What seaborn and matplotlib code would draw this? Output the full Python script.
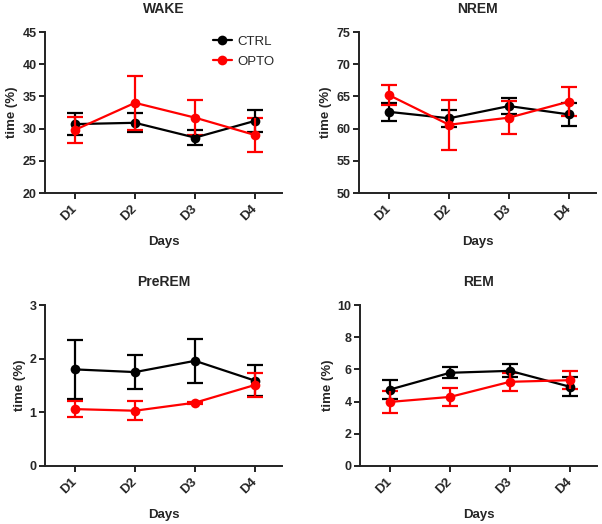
import numpy as np
import pandas as pd
import matplotlib
matplotlib.use("Agg")
import matplotlib.pyplot as plt
import seaborn as sns

days = ["D1", "D2", "D3", "D4"]
groups = ["CTRL", "OPTO"]
colors = {"CTRL": "#000000", "OPTO": "#ff0000"}

wake_ctrl = [30.7, 30.9, 28.6, 31.2]
wake_ctrl_sem = [1.7, 1.45, 1.2, 1.75]
wake_opto = [29.8, 34.0, 31.7, 29.0]
wake_opto_sem = [2.0, 4.2, 2.7, 2.6]

nrem_ctrl = [62.6, 61.6, 63.5, 62.2]
nrem_ctrl_sem = [1.45, 1.3, 1.3, 1.8]
nrem_opto = [65.2, 60.6, 61.7, 64.2]
nrem_opto_sem = [1.5, 3.85, 2.6, 2.3]

prerem_ctrl = [1.80, 1.75, 1.96, 1.59]
prerem_ctrl_sem = [0.55, 0.32, 0.41, 0.29]
prerem_opto = [1.06, 1.03, 1.18, 1.51]
prerem_opto_sem = [0.15, 0.18, 0.02, 0.22]

rem_ctrl = [4.75, 5.79, 5.91, 4.92]
rem_ctrl_sem = [0.57, 0.35, 0.40, 0.60]
rem_opto = [3.98, 4.29, 5.23, 5.33]
rem_opto_sem = [0.68, 0.56, 0.55, 0.55]

panels = [
    ("WAKE", wake_ctrl, wake_ctrl_sem, wake_opto, wake_opto_sem, (20, 45), 5),
    ("NREM", nrem_ctrl, nrem_ctrl_sem, nrem_opto, nrem_opto_sem, (50, 75), 5),
    ("PreREM", prerem_ctrl, prerem_ctrl_sem, prerem_opto, prerem_opto_sem, (0, 3), 1),
    ("REM", rem_ctrl, rem_ctrl_sem, rem_opto, rem_opto_sem, (0, 10), 2),
]

sns.set_style("ticks")
plt.rcParams["font.family"] = ["Liberation Sans", "DejaVu Sans"]

W, H = 602, 524
fig = plt.figure(figsize=(W / 100, H / 100), dpi=100)

# axes boxes in pixels: left, top, width, bottom
boxes = [(45, 32, 237, 193), (359, 32, 237, 193), (45, 305, 237, 466), (360, 305, 237, 466)]

xpos = np.arange(len(days))

for i, (title, c, cs, o, os_, ylim, step) in enumerate(panels):
    l, t, w, b = boxes[i]
    ax = fig.add_axes([l / W, 1 - b / H, w / W, (b - t) / H])
    rows = []
    for g, vals, sems in (("CTRL", c, cs), ("OPTO", o, os_)):
        for x, d, v, s in zip(xpos, days, vals, sems):
            rows.append({"x": x, "day": d, "group": g, "value": v, "err": s})
    df = pd.DataFrame(rows)
    for g in groups:
        sub = df[df["group"] == g]
        ax.errorbar(sub["x"], sub["value"], yerr=sub["err"], fmt="none", ecolor=colors[g],
                    elinewidth=1.6, capsize=6, capthick=1.6, zorder=2 if g == "CTRL" else 4)
    sns.lineplot(data=df, x="x", y="value", hue="group", palette=colors,
                 hue_order=groups, marker="o", markersize=7, markeredgewidth=0,
                 linewidth=1.6, ax=ax, legend=(i == 0))
    lines = [ln for ln in ax.get_lines() if len(ln.get_xdata()) == len(days)]
    for ln in lines:
        if ln.get_color() in ("#ff0000", (1.0, 0.0, 0.0, 1.0), (1.0, 0.0, 0.0)):
            ln.set_zorder(5)
        else:
            ln.set_zorder(3)
    ax.set_xlim(-0.5, 3.45)
    ax.set_ylim(*ylim)
    ax.set_yticks(np.arange(ylim[0], ylim[1] + step / 2, step))
    ax.set_xticks(xpos)
    ax.set_xticklabels(days, rotation=45, ha="right", va="center", rotation_mode="anchor",
                       fontweight="bold", fontsize=9.5)
    for lab in ax.get_yticklabels():
        lab.set_fontweight("bold")
        lab.set_fontsize(9)
    ax.tick_params(axis="both", direction="out", length=4, width=1.4, color="#222222", pad=2)
    ax.tick_params(axis="x", pad=6)
    for sp in ("left", "bottom"):
        ax.spines[sp].set_linewidth(1.4)
        ax.spines[sp].set_color("#222222")
    sns.despine(ax=ax)
    ax.set_title(title, fontweight="bold", fontsize=10, pad=14)
    ax.set_xlabel("Days", fontweight="bold", fontsize=9.5, labelpad=9)
    ax.set_ylabel("time (%)", fontweight="bold", fontsize=9.5, labelpad=3)
    if i == 0:
        leg = ax.legend(loc="upper right", bbox_to_anchor=(1.02, 1.05), frameon=False,
                        fontsize=9.5, handlelength=1.45, handletextpad=0.45, labelspacing=0.55)
        leg.set_title(None)

fig.savefig("out.png", dpi=100)
